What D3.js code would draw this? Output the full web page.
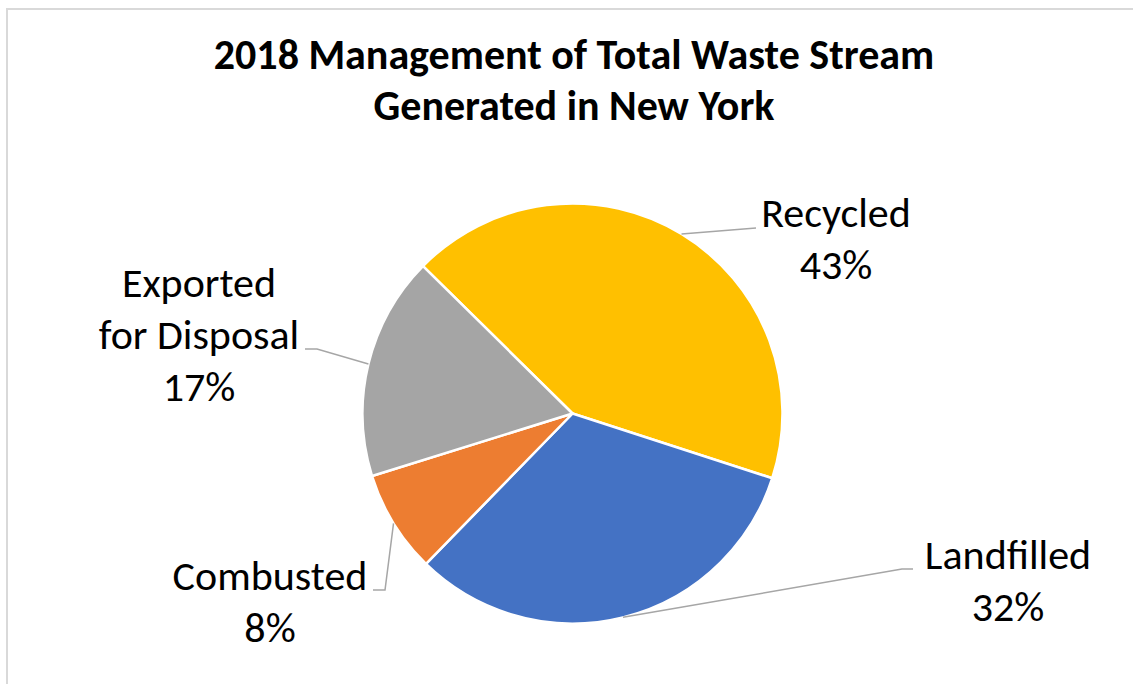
<!DOCTYPE html>
<html>
<head>
    <meta charset="utf-8">
    <title>waste_stream_pie</title>
    <script src="https://cdn.jsdelivr.net/npm/d3@7/dist/d3.min.js"></script>
    <style>
        body { margin: 0; background: #ffffff; }
        svg { display: block; font-family: Carlito, Calibri, Lato, sans-serif; }
    </style>
</head>
<body>
<svg width="1133" height="684" id="mainsvg"></svg>
<script>
    // data
    const categories = ['Recycled', 'Landfilled', 'Combusted', 'Exported for Disposal'];
    const values = [42.6, 32.3, 7.9, 17.2];
    const labelLines = [['Recycled'], ['Landfilled'], ['Combusted'], ['Exported', 'for Disposal']];
    const colors = ['#FFC000', '#4472C4', '#ED7D31', '#A5A5A5'];
    const titleLines = ['2018 Management of Total Waste Stream', 'Generated in New York'];

    const svg = d3.select('#mainsvg');
    const width = +svg.attr('width');
    const height = +svg.attr('height');

    const cx = 572.5, cy = 413.5, radius = 210;
    const startAngle = -45.4 * Math.PI / 180;

    // label box: x = centre of text, y = first baseline, elbow = where leader turns
    const labelLayout = [
        {x: 836, y: 227, elbow: [756, 228], end: [756, 228]},
        {x: 1008, y: 569, elbow: [902, 569], end: [913, 569]},
        {x: 270, y: 590, elbow: [385, 590], end: [373, 590]},
        {x: 199, y: 297, elbow: [317, 349], end: [305, 349]}
    ];
    const lineGap = 52;

    // chart border
    svg.append('rect')
        .attr('x', 7).attr('y', 9)
        .attr('width', width + 20).attr('height', height + 20)
        .attr('fill', '#ffffff')
        .attr('stroke', '#d9d9d9')
        .attr('stroke-width', 2);

    // title
    const title = svg.append('text')
        .attr('text-anchor', 'middle')
        .attr('font-weight', 'bold')
        .attr('font-size', 42)
        .attr('fill', '#000000');
    title.selectAll('tspan').data(titleLines).join('tspan')
        .attr('x', 574)
        .attr('y', (d, i) => 69 + i * 51)
        .text(d => d);

    const pie = d3.pie().sort(null).value(d => d)
        .startAngle(startAngle).endAngle(startAngle + 2 * Math.PI);
    const arcs = pie(values);
    const total = d3.sum(values);
    const pct = d3.format('.0%');

    const arc = d3.arc().innerRadius(0).outerRadius(radius);
    const edgeArc = d3.arc().innerRadius(radius).outerRadius(radius);

    const g = svg.append('g').attr('transform', `translate(${cx},${cy})`);

    g.selectAll('path.slice').data(arcs).join('path')
        .attr('class', 'slice')
        .attr('d', arc)
        .attr('fill', (d, i) => colors[i])
        .attr('stroke', '#ffffff')
        .attr('stroke-width', 2.5)
        .attr('stroke-linejoin', 'round');

    // leader lines
    svg.selectAll('polyline.leader').data(arcs).join('polyline')
        .attr('class', 'leader')
        .attr('fill', 'none')
        .attr('stroke', '#a6a6a6')
        .attr('stroke-width', 1.5)
        .attr('points', (d, i) => {
            const c = edgeArc.centroid(d);
            const L = labelLayout[i];
            return [[c[0] + cx, c[1] + cy], L.elbow, L.end].map(p => p.join(',')).join(' ');
        });

    // labels
    const labels = svg.selectAll('text.label').data(arcs).join('text')
        .attr('class', 'label')
        .attr('text-anchor', 'middle')
        .attr('font-size', 42)
        .attr('fill', '#000000');
    labels.each(function(d, i) {
        const t = d3.select(this);
        const L = labelLayout[i];
        const lines = labelLines[i].concat([pct(d.data / total)]);
        t.selectAll('tspan').data(lines).join('tspan')
            .attr('x', L.x)
            .attr('y', (s, j) => L.y + j * lineGap)
            .text(s => s);
    });
</script>
</body>
</html>
